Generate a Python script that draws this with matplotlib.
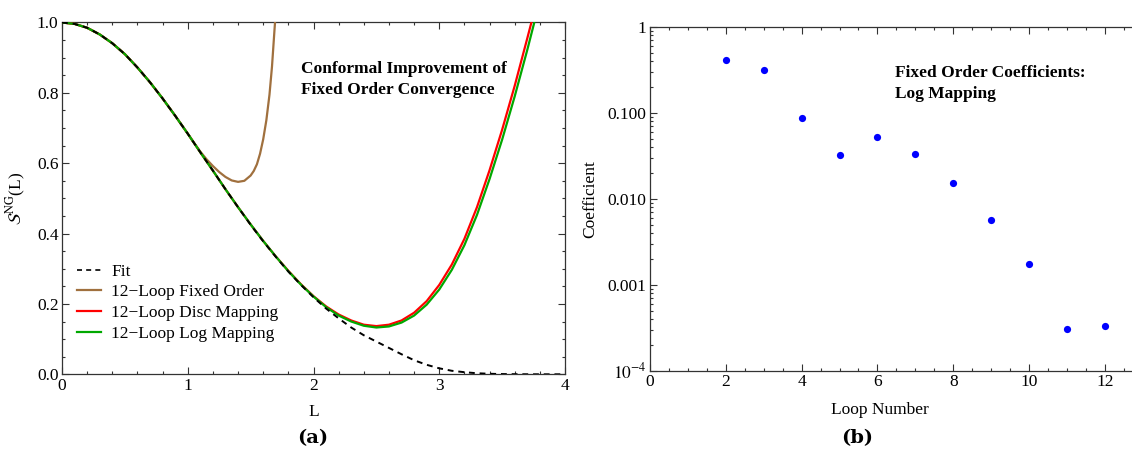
import matplotlib
matplotlib.use('Agg')
import matplotlib.pyplot as plt
from matplotlib.ticker import MultipleLocator, FixedLocator, FixedFormatter, NullFormatter
from matplotlib.lines import Line2D

plt.rcParams['font.family'] = ['Liberation Serif', 'DejaVu Serif']
plt.rcParams['mathtext.fontset'] = 'stix'

# ---------------- data: panel (a) ----------------
L_fit = [0.0, 0.1, 0.2, 0.3, 0.4, 0.5, 0.6, 0.7, 0.8, 0.9, 1.0, 1.1, 1.2, 1.3, 1.4,
         1.5, 1.6, 1.7, 1.8, 1.9, 2.0, 2.1, 2.2, 2.3, 2.4, 2.5, 2.6, 2.7, 2.8, 2.9,
         3.0, 3.1, 3.2, 3.3, 3.4, 3.5, 3.6, 3.7, 3.8, 3.9, 4.0]
S_fit = [1.000, 0.996, 0.985, 0.966, 0.941, 0.910, 0.872, 0.830, 0.784, 0.735, 0.684,
         0.631, 0.579, 0.526, 0.475, 0.425, 0.378, 0.334, 0.292, 0.254, 0.219, 0.187,
         0.159, 0.133, 0.111, 0.093, 0.075, 0.057, 0.040, 0.027, 0.017, 0.010, 0.006,
         0.003, 0.0015, 0.0007, 0.0003, 0.0001, 0.0, 0.0, 0.0]

L_fixed = [0.0, 0.1, 0.2, 0.3, 0.4, 0.5, 0.6, 0.7, 0.8, 0.9, 1.0, 1.05, 1.1, 1.15, 1.2,
           1.25, 1.3, 1.35, 1.4, 1.45, 1.5, 1.525, 1.55, 1.575, 1.6, 1.625, 1.65, 1.67,
           1.69, 1.70]
S_fixed = [1.000, 0.996, 0.985, 0.966, 0.941, 0.910, 0.872, 0.830, 0.784, 0.735, 0.684,
           0.658, 0.633, 0.611, 0.592, 0.575, 0.561, 0.551, 0.547, 0.550, 0.565, 0.578,
           0.597, 0.627, 0.668, 0.722, 0.795, 0.875, 0.980, 1.030]

L_disc = [0.0, 0.1, 0.2, 0.3, 0.4, 0.5, 0.6, 0.7, 0.8, 0.9, 1.0, 1.1, 1.2, 1.3, 1.4,
          1.5, 1.6, 1.7, 1.8, 1.9, 2.0, 2.1, 2.2, 2.3, 2.4, 2.5, 2.6, 2.7, 2.8, 2.9,
          3.0, 3.1, 3.2, 3.3, 3.4, 3.5, 3.6, 3.7, 3.74]
S_disc = [1.000, 0.996, 0.985, 0.966, 0.941, 0.910, 0.872, 0.830, 0.784, 0.735, 0.684,
          0.631, 0.579, 0.526, 0.475, 0.426, 0.379, 0.335, 0.294, 0.256, 0.222, 0.193,
          0.170, 0.153, 0.141, 0.137, 0.141, 0.153, 0.175, 0.208, 0.254, 0.312, 0.385,
          0.475, 0.580, 0.695, 0.820, 0.955, 1.010]

L_log = [0.0, 0.1, 0.2, 0.3, 0.4, 0.5, 0.6, 0.7, 0.8, 0.9, 1.0, 1.1, 1.2, 1.3, 1.4,
         1.5, 1.6, 1.7, 1.8, 1.9, 2.0, 2.1, 2.2, 2.3, 2.4, 2.5, 2.6, 2.7, 2.8, 2.9,
         3.0, 3.1, 3.2, 3.3, 3.4, 3.5, 3.6, 3.7, 3.77]
S_log = [1.000, 0.996, 0.985, 0.966, 0.941, 0.910, 0.872, 0.830, 0.784, 0.735, 0.684,
         0.631, 0.579, 0.526, 0.475, 0.426, 0.379, 0.335, 0.293, 0.255, 0.221, 0.191,
         0.167, 0.150, 0.138, 0.133, 0.136, 0.147, 0.167, 0.198, 0.241, 0.297, 0.367,
         0.453, 0.555, 0.667, 0.790, 0.922, 1.020]

legend_labels = ['Fit', '12\u2212Loop Fixed Order', '12\u2212Loop Disc Mapping',
                 '12\u2212Loop Log Mapping']

# ---------------- data: panel (b) ----------------
loop_number = [2, 3, 4, 5, 6, 7, 8, 9, 10, 11, 12]
coefficient = [0.41, 0.31, 0.0867, 0.0319, 0.0516, 0.0334, 0.0152, 0.0056, 0.00175,
               0.000303, 0.000328]
yticks_b = [1e-4, 1e-3, 1e-2, 1e-1, 1]
yticklabels_b = [r'$10^{-4}$', '0.001', '0.010', '0.100', '1']

# ---------------- figure ----------------
W, H = 1132, 455
fig = plt.figure(figsize=(W / 100, H / 100), dpi=100)


def rect(x0, x1, y0, y1):
    return [x0 / W, 1 - y1 / H, (x1 - x0) / W, (y1 - y0) / H]


FS = 12.5
spine_c = '#333333'

ax1 = fig.add_axes(rect(62, 565, 22.5, 374.3))
ax2 = fig.add_axes(rect(650, 650 + 12.8 * 37.9, 26.7, 370.7))

c_brown = '#A0703E'
c_red = '#FF0000'
c_green = '#00A800'
LW = 1.6

ax1.plot(L_fixed, S_fixed, color=c_brown, lw=LW, zorder=3)
ax1.plot(L_disc, S_disc, color=c_red, lw=LW, zorder=4)
ax1.plot(L_log, S_log, color=c_green, lw=LW, zorder=5)
ax1.plot(L_fit, S_fit, color='black', lw=1.4, ls=(0, (3, 2.5)), zorder=6)

ax1.set_xlim(0, 4)
ax1.set_ylim(0, 1)
ax1.xaxis.set_minor_locator(MultipleLocator(0.2))
ax1.yaxis.set_minor_locator(MultipleLocator(0.05))
ax1.set_yticks([0, 0.2, 0.4, 0.6, 0.8, 1.0])
ax1.set_yticklabels(['0.0', '0.2', '0.4', '0.6', '0.8', '1.0'])
ax1.set_xticks([0, 1, 2, 3, 4])
ax1.set_xticklabels(['0', '1', '2', '3', '4'])

handles = [Line2D([], [], color='black', lw=1.2, ls=(0, (3, 2.5))),
           Line2D([], [], color=c_brown, lw=LW),
           Line2D([], [], color=c_red, lw=LW),
           Line2D([], [], color=c_green, lw=LW)]
ax1.legend(handles, legend_labels, loc='upper left', bbox_to_anchor=(0.029, 0.315),
           frameon=False, fontsize=FS, borderaxespad=0, borderpad=0,
           handlelength=1.4, handletextpad=0.6, labelspacing=0.27)

ax1.text((301 - 62) / 503, (374.3 - 72.7) / 351.8, 'Conformal Improvement of',
         transform=ax1.transAxes, fontsize=FS, fontweight='bold', va='baseline', ha='left')
ax1.text((301 - 62) / 503, (374.3 - 94.0) / 351.8, 'Fixed Order Convergence',
         transform=ax1.transAxes, fontsize=FS, fontweight='bold', va='baseline', ha='left')

ax1.set_xlabel('L', fontsize=FS)
ax1.set_ylabel(r'$\mathcal{S}^{\mathrm{NG}}$(L)', fontsize=FS)
ax1.xaxis.set_label_coords(0.5, -0.085)
ax1.yaxis.set_label_coords(-0.068, 0.5)

# panel b
ax2.semilogy(loop_number, coefficient, 'o', color='#0000FF', ms=5.2, mec='none')
ax2.set_xlim(0, 12.8)
ax2.set_ylim(1e-4, 1)
ax2.xaxis.set_minor_locator(MultipleLocator(0.5))
ax2.set_xticks([0, 2, 4, 6, 8, 10, 12])
ax2.set_xticklabels(['0', '2', '4', '6', '8', '10', '12'])
ax2.yaxis.set_major_locator(FixedLocator(yticks_b))
ax2.yaxis.set_major_formatter(FixedFormatter(yticklabels_b))
minor_b = [m * 10.0 ** e for e in range(-4, 0) for m in range(2, 10)]
ax2.yaxis.set_minor_locator(FixedLocator(minor_b))
ax2.yaxis.set_minor_formatter(NullFormatter())

ax2.text((895 - 650) / (12.8 * 37.9), (370.7 - 77) / 344, 'Fixed Order Coefficients:',
         transform=ax2.transAxes, fontsize=FS, fontweight='bold', va='baseline', ha='left')
ax2.text((895 - 650) / (12.8 * 37.9), (370.7 - 98) / 344, 'Log Mapping',
         transform=ax2.transAxes, fontsize=FS, fontweight='bold', va='baseline', ha='left')

ax2.set_xlabel('Loop Number', fontsize=FS)
ax2.set_ylabel('Coefficient', fontsize=FS)
ax2.xaxis.set_label_coords((880 - 650) / (12.8 * 37.9), -0.09)
ax2.yaxis.set_label_coords((598 - 650) / (12.8 * 37.9), 0.5)

for ax in (ax1, ax2):
    for s in ax.spines.values():
        s.set_color(spine_c)
        s.set_linewidth(0.9)
    ax.tick_params(which='both', direction='in', top=True, right=True, color=spine_c,
                   width=0.8, labelsize=FS, pad=2.5)
    ax.tick_params(which='major', length=5)
    ax.tick_params(which='minor', length=2.5)
ax2.tick_params(which='both', right=False)

fig.text(313 / W, 1 - 438 / H, '(a)', family='DejaVu Serif', fontweight='bold',
         fontsize=14, ha='center', va='center')
fig.text(857 / W, 1 - 438 / H, '(b)', family='DejaVu Serif', fontweight='bold',
         fontsize=14, ha='center', va='center')

fig.savefig('out.png', dpi=100)
